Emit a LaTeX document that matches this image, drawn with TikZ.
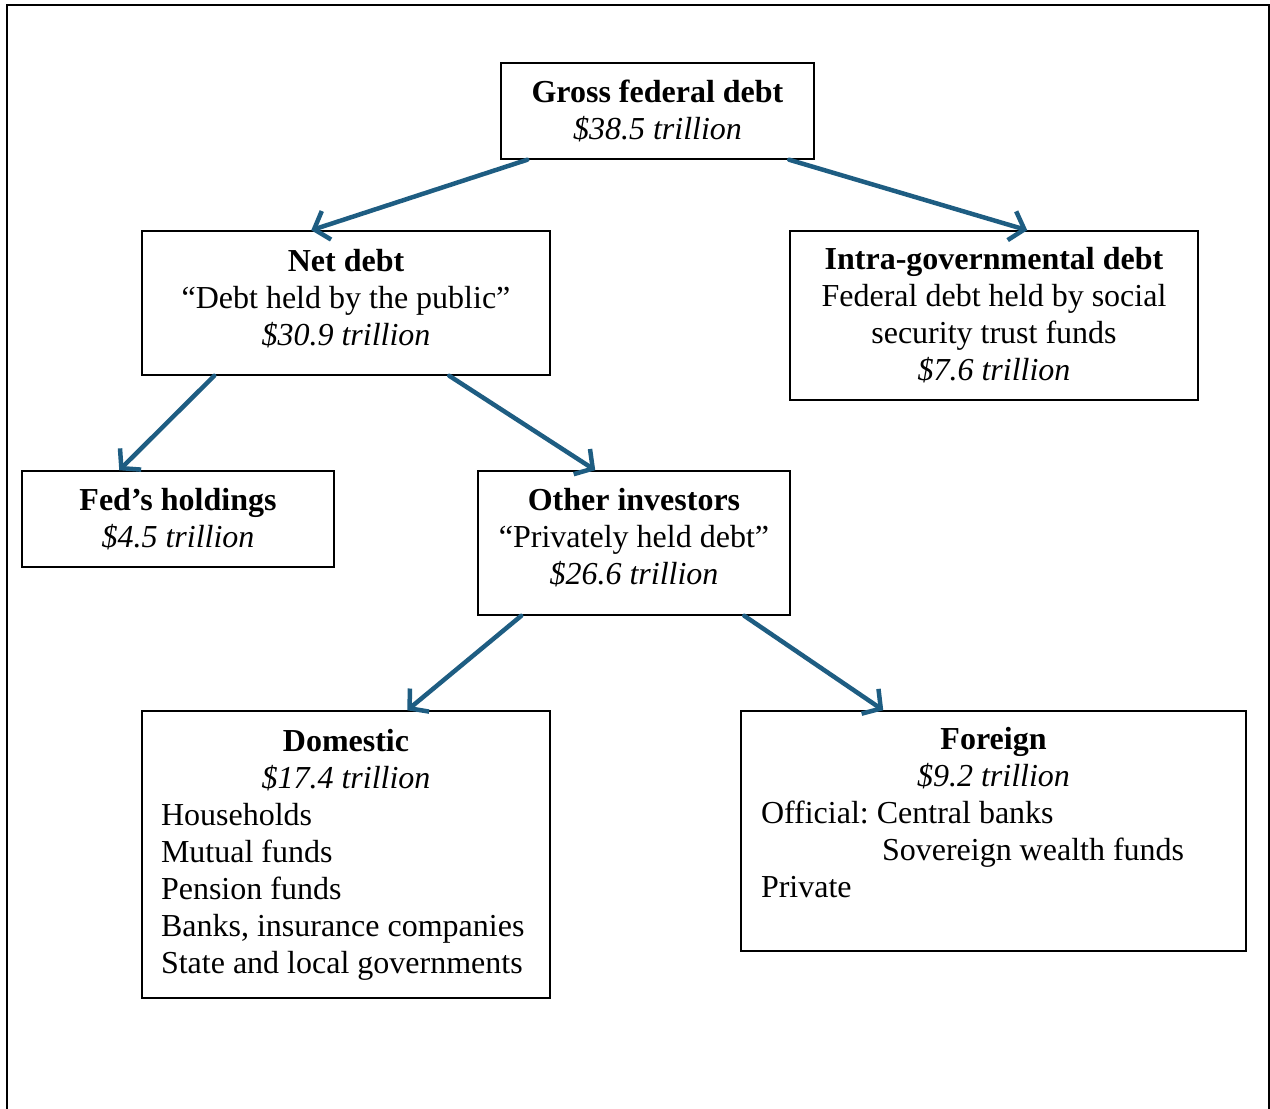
\documentclass[tikz,border=0pt]{standalone}
\usepackage{fontspec}
\setmainfont{Liberation Serif}
\usetikzlibrary{arrows.meta}
\definecolor{arrblue}{RGB}{30,93,130}
\tikzset{
  box/.style={draw=black, line width=1.5pt, inner sep=0pt, align=center,
    font=\fontsize{32}{37}\selectfont},
  lbox/.style={box, align=flush left},
  arr/.style={draw=arrblue, line width=4.5pt, line cap=round,
    -{Straight Barb[length=13pt,width=30pt,line width=4.5pt]}},
}
\begin{document}
\begin{tikzpicture}[x=1pt,y=-1pt]
\useasboundingbox (0,0) rectangle (1270,1109);
\draw[line width=2pt] (7,1115) -- (7,5) -- (1269,5) -- (1269,1115);

\node[box, minimum width=313pt, minimum height=96pt] (gross) at (657.5,111)
  {\textbf{Gross federal debt}\\\textit{\$38.5 trillion}};
\node[box, minimum width=408pt, minimum height=144pt] (net) at (346,303)
  {\textbf{Net debt}\\“Debt held by the public”\\\textit{\$30.9 trillion}\rule[-11pt]{0pt}{11pt}};
\node[box, minimum width=408pt, minimum height=169pt] (intra) at (994,315.5)
  {\textbf{Intra-governmental debt}\\Federal debt held by social\\security trust funds\\\textit{\$7.6 trillion}};
\node[box, minimum width=312pt, minimum height=96pt] (fed) at (178,519)
  {\textbf{Fed’s holdings}\\\textit{\$4.5 trillion}};
\node[box, minimum width=312pt, minimum height=144pt] (other) at (634,543)
  {\textbf{Other investors}\\“Privately held debt”\\\textit{\$26.6 trillion}\rule[-13pt]{0pt}{13pt}};
\node[lbox, minimum width=408pt, minimum height=287pt, text width=370pt, inner xsep=19pt] (dom) at (346,854.5)
  {\makebox[370pt]{\textbf{Domestic}}\\\makebox[370pt]{\textit{\$17.4 trillion}}\\Households\\Mutual funds\\Pension funds\\Banks, insurance companies\\State and local governments};
\node[lbox, minimum width=505pt, minimum height=240pt, text width=465pt, inner xsep=20pt] (for) at (993.5,831)
  {\makebox[465pt]{\textbf{Foreign}}\\\makebox[465pt]{\textit{\$9.2 trillion}}\\Official:\ Central banks\\\hspace*{121pt}Sovereign wealth funds\\Private\\\rule{0pt}{3pt}};

\draw[arr] ([xshift=27pt]gross.south west) -- ([xshift=170pt]net.north west);
\draw[arr] ([xshift=289pt]gross.south west) -- ([xshift=238pt]intra.north west);
\draw[arr] ([xshift=73pt]net.south west) -- ([xshift=98pt]fed.north west);
\draw[arr] ([xshift=308pt]net.south west) -- ([xshift=118pt]other.north west);
\draw[arr] ([xshift=44pt]other.south west) -- ([xshift=266pt]dom.north west);
\draw[arr] ([xshift=267pt]other.south west) -- ([xshift=143pt]for.north west);
\end{tikzpicture}
\end{document}
